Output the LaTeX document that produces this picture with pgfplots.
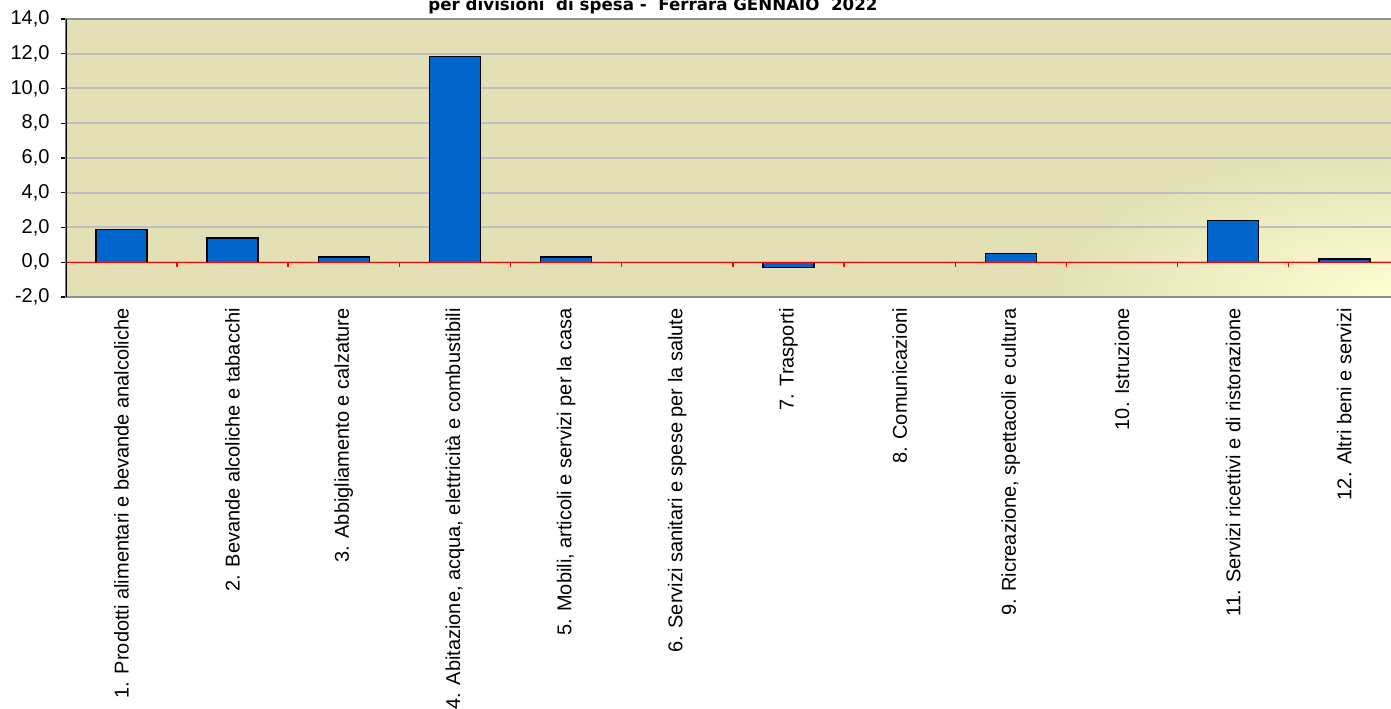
\documentclass[border=0pt]{standalone}
\usepackage{pgfplots}
\pgfplotsset{compat=1.18}
\usepackage{pgfplotstable}
\usepackage{fontspec}
\setmainfont{Liberation Sans}
\newfontfamily\titlefont{DejaVu Sans}
\usetikzlibrary{calc}
\definecolor{barblue}{HTML}{0066CC}
\definecolor{bgbeige}{HTML}{E3E0B6}
\definecolor{lightyel}{HTML}{FFFFD2}
\definecolor{gridgray}{HTML}{BEBEBE}
\definecolor{framegray}{HTML}{909090}

\pgfplotstableread{
x y
1 1.9
2 1.4
3 0.3
4 11.85
5 0.3
6 0.0
7 -0.3
8 0.0
9 0.5
10 0.0
11 2.4
12 0.2
}\datatable

\begin{document}
\begin{tikzpicture}
\begin{axis}[
  set layers,
  scale only axis,
  width=1000.575pt, height=208.5pt,
  xmin=0.5, xmax=12.5, ymin=-2, ymax=14,
  ytick={-2,0,...,14},
  xtick={1,...,12},
  xticklabels={
    {1. Prodotti alimentari e bevande analcoliche},
    {2. Bevande alcoliche e tabacchi},
    {3. Abbigliamento e calzature},
    {4. Abitazione, acqua, elettricità e combustibili},
    {5. Mobili, articoli e servizi per la casa},
    {6. Servizi sanitari e spese per la salute},
    {7. Trasporti},
    {8. Comunicazioni},
    {9. Ricreazione, spettacoli e cultura},
    {10. Istruzione},
    {11. Servizi ricettivi e di ristorazione},
    {12. Altri beni e servizi}},
  xticklabel style={yshift=-4.5pt, rotate=90, anchor=east, inner sep=0pt, font=\fontsize{15}{15}\selectfont},
  yticklabel style={font=\fontsize{15}{15}\selectfont, inner sep=0pt, xshift=-8.25pt},
  /pgf/number format/.cd, fixed, fixed zerofill, precision=1, use comma, assume math mode=true,
  /pgfplots/.cd,
  ymajorgrids,
  grid style={gridgray, line width=1.5pt},
  axis line style={framegray, line width=1.5pt},
  tick align=outside,
  ytick pos=left,
  major tick length=3.75pt,
  ytick style={black, line width=1pt},
  xtick style={draw=none},
  ybar, bar width=38.25pt,
]
\begin{pgfonlayer}{axis background}
  \fill[bgbeige] (rel axis cs:0,0) rectangle (rel axis cs:1,1);
  \begin{scope}
    \clip (rel axis cs:0,0) rectangle (rel axis cs:1,1);
    \shade[inner color=lightyel, outer color=bgbeige] (rel axis cs:1,0) ellipse [x radius=260pt, y radius=110pt];
  \end{scope}
\end{pgfonlayer}
\addplot[fill=barblue, draw=black, line width=1.1pt] table[x=x, y=y] {\datatable};
\draw[red, line width=1.1pt] (axis cs:0.5,0) -- (axis cs:12.5,0);
\pgfplotsinvokeforeach{1.5,2.5,3.5,4.5,5.5,6.5,7.5,8.5,9.5,10.5,11.5}{
  \draw[red, line width=1pt] (axis cs:#1,0) -- ++(0pt,-3.75pt);
}
\draw[black, line width=1.1pt] (rel axis cs:0,0) -- (rel axis cs:0,1);
\coordinate (SW) at (rel axis cs:0,0);
\end{axis}
\node[font=\titlefont\bfseries\fontsize{12.5}{12.5}\selectfont, anchor=base] at ($(SW)+(440.4pt,214.5pt)$) {per divisioni\ \ di spesa - \ Ferrara GENNAIO\ \ 2022};
\pgfresetboundingbox
\path[use as bounding box] ($(SW)+(-49.35pt,-309pt)$) rectangle ($(SW)+(993.9pt,222.75pt)$);
\end{tikzpicture}
\end{document}
